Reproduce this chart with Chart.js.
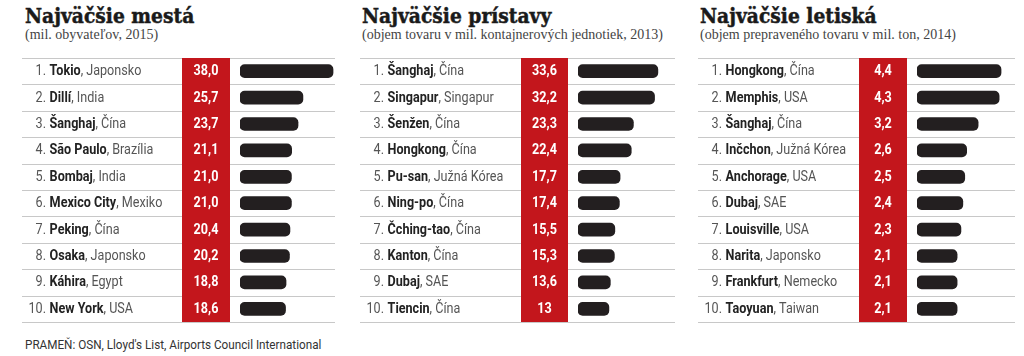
<!DOCTYPE html>
<html><head><meta charset="utf-8">
<script src="https://cdn.jsdelivr.net/npm/chart.js@4.4.1/dist/chart.umd.min.js"></script>
<style>
html,body{margin:0;padding:0;background:#fff;width:1024px;height:356px;overflow:hidden;position:relative}
.t{position:absolute;white-space:nowrap;transform-origin:0 0}
.title{font-family:"DejaVu Serif";font-weight:bold;font-size:21px;color:#1a1a1a;transform:scaleX(0.89);-webkit-text-stroke:0.5px #1a1a1a}
.sub{font-family:"Liberation Serif";font-size:14px;color:#444}
.foot{font-family:Roboto;font-size:13px;color:#333;transform:scaleX(0.9)}
canvas{position:absolute}
</style></head><body>
<div class="t title" style="left:25px;top:3px">Najväčšie mestá</div>
<div class="t sub" style="left:25px;top:27px">(mil. obyvateľov, 2015)</div>
<div class="t title" style="left:362px;top:3px">Najväčšie prístavy</div>
<div class="t sub" style="left:362px;top:27px">(objem tovaru v mil. kontajnerových jednotiek, 2013)</div>
<div class="t title" style="left:700px;top:3px">Najväčšie letiská</div>
<div class="t sub" style="left:700px;top:27px">(objem prepraveného tovaru v mil. ton, 2014)</div>
<div class="t foot" style="left:25px;top:337px">PRAMEŇ: OSN, Lloyd's List, Airports Council International</div>
<canvas id="c1" width="320" height="280" style="left:20px;top:50px"></canvas>
<canvas id="c2" width="325" height="280" style="left:355px;top:50px"></canvas>
<canvas id="c3" width="328" height="280" style="left:693px;top:50px"></canvas>
<script>
const cityNames = ['Tokio','Dillí','Šanghaj','São Paulo','Bombaj','Mexico City','Peking','Osaka','Káhira','New York'];
const cityCountries = ['Japonsko','India','Čína','Brazília','India','Mexiko','Čína','Japonsko','Egypt','USA'];
const cityValues = [38.0,25.7,23.7,21.1,21.0,21.0,20.4,20.2,18.8,18.6];
const cityValueLabels = ['38,0','25,7','23,7','21,1','21,0','21,0','20,4','20,2','18,8','18,6'];

const portNames = ['Šanghaj','Singapur','Šenžen','Hongkong','Pu-san','Ning-po','Čching-tao','Kanton','Dubaj','Tiencin'];
const portCountries = ['Čína','Singapur','Čína','Čína','Južná Kórea','Čína','Čína','Čína','SAE','Čína'];
const portValues = [33.6,32.2,23.3,22.4,17.7,17.4,15.5,15.3,13.6,13];
const portValueLabels = ['33,6','32,2','23,3','22,4','17,7','17,4','15,5','15,3','13,6','13'];

const airportNames = ['Hongkong','Memphis','Šanghaj','Inčchon','Anchorage','Dubaj','Louisville','Narita','Frankfurt','Taoyuan'];
const airportCountries = ['Čína','USA','Čína','Južná Kórea','USA','SAE','USA','Japonsko','Nemecko','Taiwan'];
const airportValues = [4.4,4.3,3.2,2.6,2.5,2.4,2.3,2.1,2.1,2.1];
const airportValueLabels = ['4,4','4,3','3,2','2,6','2,5','2,4','2,3','2,1','2,1','2,1'];

const RED = '#c3161c';
const SX = 0.9;

const panelPlugin = {
  id: 'panel',
  beforeDatasetsDraw(chart, args, o) {
    const ctx = chart.ctx, ys = chart.scales.y, a = chart.chartArea;
    const step = ys.getPixelForValue(1) - ys.getPixelForValue(0);
    ctx.save();
    ctx.strokeStyle = '#c8c8c8'; ctx.lineWidth = 1;
    for (let i = 0; i <= chart.data.labels.length; i++) {
      const y = Math.round(ys.getPixelForValue(0) - step/2 + i*step) + 0.5;
      ctx.beginPath(); ctx.moveTo(o.lineX0, y); ctx.lineTo(o.lineX1, y); ctx.stroke();
    }
    ctx.fillStyle = RED;
    ctx.fillRect(o.redX0, a.top, o.redX1 - o.redX0, a.bottom - a.top);
    ctx.restore();
  },
  afterDatasetsDraw(chart, args, o) {
    const ctx = chart.ctx, ys = chart.scales.y;
    ctx.save();
    ctx.textBaseline = 'middle';
    const n = chart.data.labels.length;
    for (let i = 0; i < n; i++) {
      const y = ys.getPixelForValue(i) + 0.5;
      ctx.save();
      ctx.translate(o.numX, y);
      ctx.scale(SX, 1);
      ctx.font = '14px Roboto';
      ctx.fillStyle = '#555';
      ctx.textAlign = 'right';
      ctx.fillText((i+1) + '.', 0, 0);
      ctx.textAlign = 'left';
      let x = 4;
      ctx.font = 'bold 14px Roboto';
      ctx.fillStyle = '#222';
      const nm = chart.data.labels[i];
      ctx.fillText(nm, x, 0);
      x += ctx.measureText(nm).width;
      ctx.font = '14px Roboto';
      ctx.fillStyle = '#555';
      ctx.fillText(', ' + o.countries[i], x, 0);
      ctx.restore();

      ctx.save();
      ctx.translate((o.redX0 + o.redX1)/2, y);
      ctx.scale(SX, 1);
      ctx.font = 'bold 14px Roboto';
      ctx.fillStyle = '#fff';
      ctx.textAlign = 'center';
      ctx.fillText(o.valueLabels[i], 0, 0);
      ctx.restore();
    }
    ctx.restore();
  }
};

function makePanel(id, names, countries, values, valueLabels, xmax, pad, geo) {
  new Chart(document.getElementById(id), {
    type: 'bar',
    data: { labels: names, datasets: [{ data: values, backgroundColor: '#231f20', borderRadius: 5, borderSkipped: false, barThickness: 13 }] },
    options: {
      indexAxis: 'y', responsive: false, animation: false, events: [],
      layout: { padding: pad },
      scales: { x: { display: false, min: 0, max: xmax }, y: { display: false } },
      plugins: { legend: { display: false }, tooltip: { enabled: false },
        panel: Object.assign({ countries, valueLabels }, geo) }
    },
    plugins: [panelPlugin]
  });
}

makePanel('c1', cityNames, cityCountries, cityValues, cityValueLabels, 38.8,
  { left: 220, right: 5, top: 8, bottom: 8 },
  { lineX0: 2, lineX1: 315, redX0: 162, redX1: 210, numX: 26 });
makePanel('c2', portNames, portCountries, portValues, portValueLabels, 40.8,
  { left: 223, right: 5, top: 8, bottom: 8 },
  { lineX0: 5, lineX1: 320, redX0: 166, redX1: 213, numX: 29 });
makePanel('c3', airportNames, airportCountries, airportValues, airportValueLabels, 5.13,
  { left: 224, right: 6, top: 8, bottom: 8 },
  { lineX0: 5, lineX1: 322, redX0: 166, redX1: 214, numX: 29 });
</script>
</body></html>
